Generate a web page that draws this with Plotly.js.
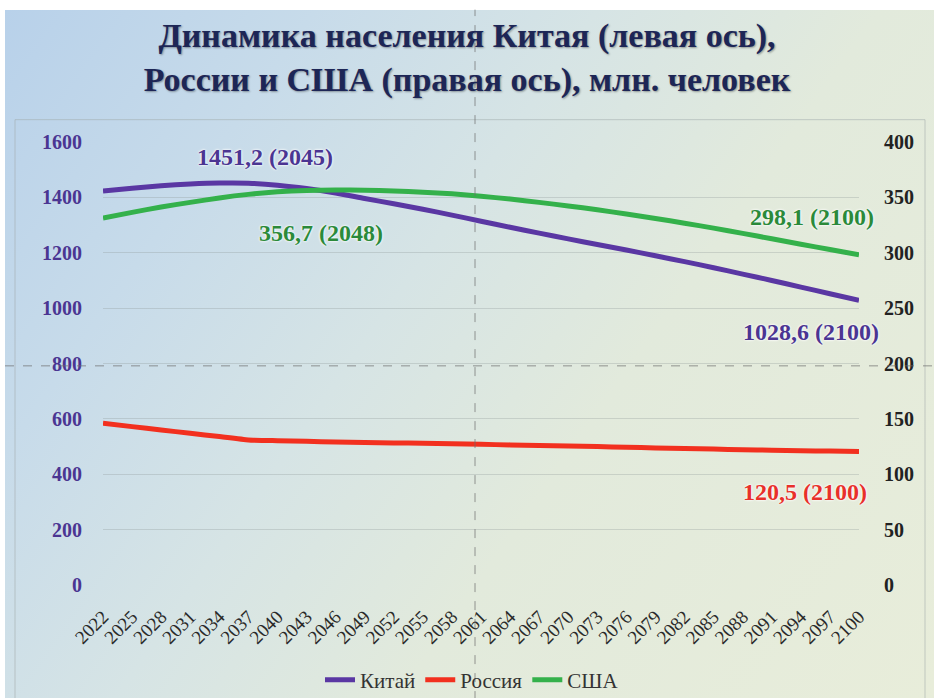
<!DOCTYPE html>
<html><head><meta charset="utf-8">
<script src="https://cdn.plot.ly/plotly-3.0.1.min.js"></script>
<style>
html,body{margin:0;padding:0;background:#ffffff;overflow:hidden;}
#bg{position:absolute;left:5px;top:10px;width:929px;height:688px;
 background:linear-gradient(125deg, #b8d1ea 0%, #c7dbea 22%, #d6e4e5 42%, #e2eadc 62%, #e8edda 100%);}
#chart{position:absolute;left:0;top:0;width:934px;height:698px;}
</style></head>
<body><div id="bg"></div><div id="chart"></div>
<script>
const years = [2022,2025,2028,2031,2034,2037,2040,2043,2046,2049,2052,2055,2058,2061,2064,2067,2070,2073,2076,2079,2082,2085,2088,2091,2094,2097,2100];
const yearLabels = ["2022","2025","2028","2031","2034","2037","2040","2043","2046","2049","2052","2055","2058","2061","2064","2067","2070","2073","2076","2079","2082","2085","2088","2091","2094","2097","2100"];
const china = [1423,1433,1442,1448,1451.5,1451,1444,1432,1416,1396,1377,1357,1336,1314,1292,1271,1250,1230,1210,1189,1168,1146,1123,1100,1076,1052,1028.6];
const russia = [146,143,140,137,134,131,130.3,129.7,129.2,128.7,128.3,128,127.5,127,126.5,126,125.5,125,124.3,123.8,123.3,122.7,122.2,121.7,121.3,120.9,120.5];
const usa = [331.3,336.5,341.3,345.5,349.5,352.7,355,356.3,356.7,356.5,355.8,354.7,353.2,351,348.5,345.5,342.3,338.8,335,331,326.7,322.2,317.5,312.6,307.7,302.9,298.1];
const seriesNames = ["Китай","Россия","США"];
const leftTicks = [0,200,400,600,800,1000,1200,1400,1600];
const rightTicks = [0,50,100,150,200,250,300,350,400];
const notes = [
  {text:"1451,2 (2045)", x:2038.7, y:1547, axis:"y", color:"#4b3592"},
  {text:"356,7 (2048)", x:2044.5, y:318, axis:"y2", color:"#2b8a3a"},
  {text:"298,1 (2100)", x:2095.2, y:332.5, axis:"y2", color:"#2b8a3a"},
  {text:"1028,6 (2100)", x:2095, y:914, axis:"y", color:"#4b3592"},
  {text:"120,5 (2100)", x:2094.4, y:84, axis:"y2", color:"#e8302a"}
];

const serif = "Liberation Serif, Times New Roman, serif";
const traces = [
  {x:years, y:china, name:seriesNames[0], type:"scatter", mode:"lines", yaxis:"y",
   line:{color:"#5a37a3", width:5, shape:"spline", smoothing:0.6}},
  {x:years, y:russia, name:seriesNames[1], type:"scatter", mode:"lines", yaxis:"y2",
   line:{color:"#f2301f", width:5, shape:"spline", smoothing:0.4}},
  {x:years, y:usa, name:seriesNames[2], type:"scatter", mode:"lines", yaxis:"y2",
   line:{color:"#34b14b", width:5, shape:"spline", smoothing:0.6}}
];

const layout = {
  width:934, height:698,
  margin:{l:103, r:75, t:142, b:113, autoexpand:false},
  paper_bgcolor:"rgba(0,0,0,0)", plot_bgcolor:"rgba(0,0,0,0)",
  title:{text:"Динамика населения Китая (левая ось),<br>России и США (правая ось), млн. человек",
    x:0.5, xref:"container", xanchor:"center", y:1-47/698, yref:"container", yanchor:"middle",
    font:{family:serif, size:34, weight:"bold", color:"#1d2656", shadow:"1px 1px 2px rgba(0,0,0,0.35)"}},
  xaxis:{type:"linear", range:[2022,2100], tickvals:years, ticktext:yearLabels, tickangle:-45,
    tickfont:{family:serif, size:19, color:"#2a2a2a"}, showgrid:false, zeroline:false, showline:false,
    ticks:"", ticklabelstandoff:16, fixedrange:true, automargin:false},
  yaxis:{range:[0,1600], tickvals:leftTicks, tickfont:{family:serif, size:20, weight:"bold", color:"#4b3592"},
    gridcolor:"rgba(140,150,150,0.3)", gridwidth:1, zeroline:false, showline:false, ticks:"",
    ticklabelstandoff:20, automargin:false},
  yaxis2:{range:[0,400], tickvals:rightTicks, overlaying:"y", side:"right",
    tickfont:{family:serif, size:20, weight:"bold", color:"#222222"},
    showgrid:false, zeroline:false, showline:false, ticks:"", ticklabelstandoff:24, automargin:false},
  legend:{orientation:"h", x:(472-103)/756, xanchor:"center", yref:"container", y:(698-680)/698, yanchor:"middle",
    font:{family:serif, size:21, color:"#333333"}, bgcolor:"rgba(0,0,0,0)", itemwidth:30},
  shapes:[
    {type:"rect", xref:"paper", yref:"paper", x0:(15-103)/756, x1:(925-103)/756, y0:(585-700)/442.7, y1:(585-120)/442.7,
     line:{color:"rgba(160,170,170,0.55)", width:1}, fillcolor:"rgba(0,0,0,0)", layer:"below"},
    {type:"line", xref:"paper", yref:"paper", x0:(475-103)/756, x1:(475-103)/756, y0:(585-700)/442.7, y1:(585-10)/442.7,
     line:{color:"rgba(110,110,110,0.7)", width:1, dash:"dash"}},
    {type:"line", xref:"paper", yref:"paper", x0:(5-103)/756, x1:(934-103)/756, y0:(585-366)/442.7, y1:(585-366)/442.7,
     line:{color:"rgba(110,110,110,0.7)", width:1, dash:"dash"}}
  ],
  annotations: notes.map(n => ({text:n.text, x:n.x, y:n.y, xref:"x", yref:n.axis, showarrow:false,
    xanchor:"center", yanchor:"middle",
    font:{family:serif, size:24, weight:"bold", color:n.color, shadow:"0 0 3px #ffffff, 0 0 2px #ffffff"}})),
  showlegend:true
};

Plotly.newPlot("chart", traces, layout, {displayModeBar:false, staticPlot:true});
</script></body></html>
